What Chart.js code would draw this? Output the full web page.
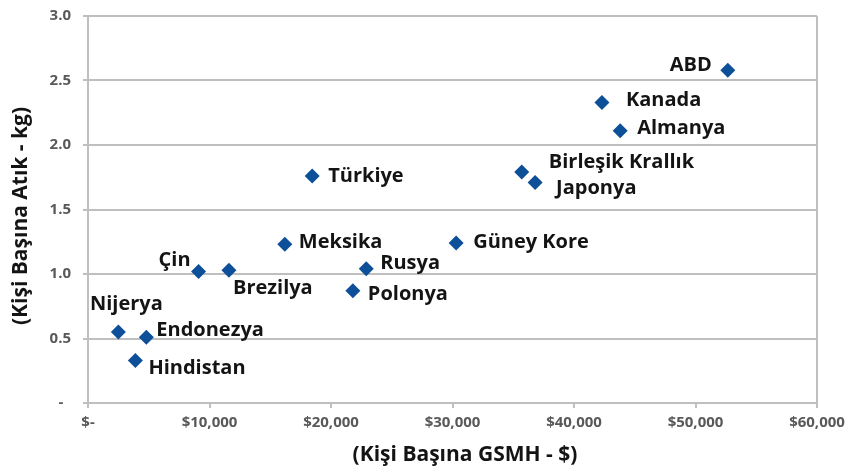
<!DOCTYPE html>
<html>
<head>
<meta charset="utf-8">
<title>Kişi Başına Atık - GSMH</title>
<script src="https://cdn.jsdelivr.net/npm/chart.js@4/dist/chart.umd.min.js"></script>
<style>
  html, body { margin: 0; padding: 0; background: #fff; }
  #wrap { width: 848px; height: 471px; }
</style>
</head>
<body>
<div id="wrap"><canvas id="grafik" width="848" height="471"></canvas></div>
<script>
// veriler
const ulkeler = ['ABD', 'Kanada', 'Almanya', 'Birleşik Krallık', 'Japonya', 'Türkiye', 'Güney Kore',
    'Meksika', 'Rusya', 'Çin', 'Brezilya', 'Polonya', 'Nijerya', 'Endonezya', 'Hindistan'];
const gsmh = [52660, 42300, 43800, 35700, 36800, 18450, 30300, 16200, 22900, 9100, 11600, 21800, 2500, 4800, 3900];
const atik = [2.58, 2.33, 2.11, 1.79, 1.71, 1.76, 1.24, 1.23, 1.04, 1.02, 1.03, 0.87, 0.55, 0.51, 0.33];

const xTicks = [0, 10000, 20000, 30000, 40000, 50000, 60000];
const yTicks = [0, 0.5, 1.0, 1.5, 2.0, 2.5, 3.0];

// etiket yerleşimi (nokta merkezine göre px): [dx, dy, hizalama]
const etiketYeri = [
    [-16, -5, 'right'], [24, -2, 'left'], [17, -3, 'left'], [27, -10, 'left'], [21, 6, 'left'],
    [16, 0, 'left'], [17, -1, 'left'], [14, -2, 'left'], [14, -6, 'left'], [-8, -11, 'right'],
    [4, 18, 'left'], [15, 4, 'left'], [8, -28, 'center'], [10, -7, 'left'], [13, 8, 'left']
];

const FONT = '"Open Sans", "DejaVu Sans", sans-serif';
const GRI = '#bfbfbf';

// nokta etiketleri + eksen başlıkları
const etiketPlugin = {
    id: 'etiketler',
    afterDatasetsDraw(chart) {
        const ctx = chart.ctx;
        const meta = chart.getDatasetMeta(0);
        ctx.save();
        ctx.fillStyle = '#141414';
        ctx.font = 'bold 20px ' + FONT;
        ctx.textBaseline = 'middle';
        meta.data.forEach((pt, i) => {
            const [dx, dy, al] = etiketYeri[i];
            ctx.textAlign = al;
            ctx.fillText(ulkeler[i], pt.x + dx, pt.y + dy);
        });

        // sağ kenar çizgisi
        const a = chart.chartArea;
        ctx.strokeStyle = GRI;
        ctx.lineWidth = 2;
        ctx.beginPath();
        ctx.moveTo(a.right, a.top);
        ctx.lineTo(a.right, a.bottom);
        ctx.stroke();

        ctx.fillStyle = '#141414';
        ctx.font = 'bold 21px ' + FONT;
        ctx.textAlign = 'center';
        ctx.fillText('(Kişi Başına GSMH - $)', 465, 455);

        ctx.translate(21, 216);
        ctx.rotate(-Math.PI / 2);
        ctx.fillText('(Kişi Başına Atık - kg)', 0, 0);
        ctx.restore();
    }
};

new Chart(document.getElementById('grafik'), {
    type: 'scatter',
    data: {
        datasets: [{
            label: 'Kişi Başına Atık',
            data: gsmh.map((g, i) => ({ x: g, y: atik[i] })),
            pointStyle: 'rectRot',
            pointRadius: 7.5,
            pointHoverRadius: 7.5,
            backgroundColor: '#0d4f98',
            borderColor: '#0d4f98',
            borderWidth: 0
        }]
    },
    options: {
        responsive: false,
        animation: false,
        events: [],
        layout: { padding: { top: 16, right: 31, bottom: 0, left: 0 } },
        plugins: {
            legend: { display: false },
            tooltip: { enabled: false }
        },
        scales: {
            x: {
                type: 'linear',
                min: 0,
                max: 60000,
                afterBuildTicks: s => { s.ticks = xTicks.map(v => ({ value: v })); },
                afterFit: s => {
                    s.height = 68;
                    s.paddingLeft = 0;
                    s.paddingRight = 0;
                },
                grid: {
                    drawOnChartArea: true,
                    color: c => (c.tick && c.tick.value === 60000) ? GRI : 'rgba(0,0,0,0)',
                    tickColor: GRI,
                    tickLength: 5,
                    lineWidth: 2
                },
                border: { color: GRI, width: 2 },
                ticks: {
                    padding: 6,
                    color: '#595959',
                    font: { family: FONT, size: 15, weight: 'bold' },
                    callback: v => v === 0 ? '$-' : '$' + v.toLocaleString('en-US')
                }
            },
            y: {
                min: 0,
                max: 3,
                afterBuildTicks: s => { s.ticks = yTicks.map(v => ({ value: v })); },
                afterFit: s => {
                    s.width = 88;
                    s.paddingTop = 0;
                    s.paddingBottom = 0;
                },
                grid: {
                    color: GRI,
                    tickColor: GRI,
                    tickLength: 5,
                    lineWidth: 2
                },
                border: { color: GRI, width: 2 },
                ticks: {
                    padding: 12,
                    color: '#595959',
                    font: { family: FONT, size: 15, weight: 'bold' },
                    callback: v => v === 0 ? '-  ' : v.toFixed(1)
                }
            }
        }
    },
    plugins: [etiketPlugin]
});
</script>
</body>
</html>
